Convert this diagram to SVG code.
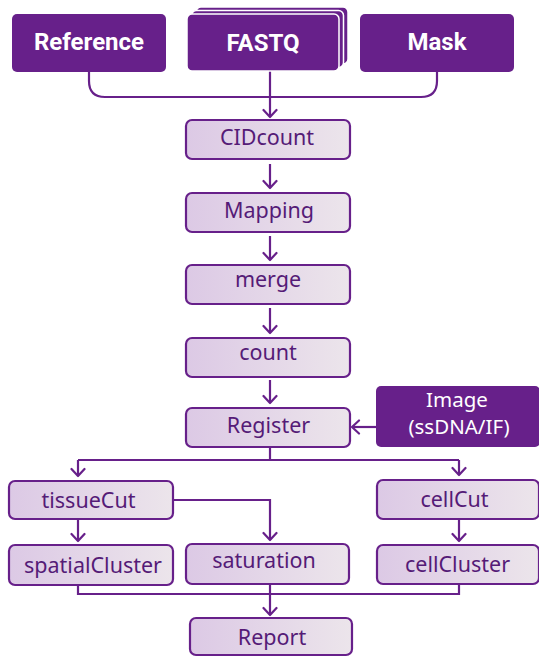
<svg xmlns="http://www.w3.org/2000/svg" width="539" height="657" viewBox="0 0 539 657">
  <defs>
    <linearGradient id="lav" x1="0" y1="0" x2="1" y2="0">
      <stop offset="0" stop-color="#dcc9e5"/>
      <stop offset="1" stop-color="#ece5eb"/>
    </linearGradient>
    <marker id="arr" markerUnits="userSpaceOnUse" markerWidth="16" markerHeight="16" viewBox="-10 -8 12 16" refX="0" refY="0" orient="auto">
      <path d="M-7,-6.5 L0,0 L-7,6.5" fill="none" stroke="#67208a" stroke-width="2.2" stroke-linecap="round" stroke-linejoin="round"/>
    </marker>
  </defs>
  <style>
    .dark { fill: #67208a; }
    .stack { fill: #67208a; stroke: #ffffff; stroke-width: 1.5; }
    .light { fill: url(#lav); stroke: #67208a; stroke-width: 2.2; }
    .tw { font-family: Roboto, "Liberation Sans", sans-serif; font-weight: 700; font-size: 24px; fill: #ffffff; text-anchor: middle; }
    .tl { font-family: "Noto Sans", "Open Sans", sans-serif; font-size: 21.5px; fill: #551b77; text-anchor: middle; }
    .ti { font-family: "Noto Sans", "Open Sans", sans-serif; font-size: 20.5px; fill: #ffffff; text-anchor: middle; }
    .c { fill: none; stroke: #67208a; stroke-width: 2.2; }
    .ca { fill: none; stroke: #67208a; stroke-width: 2.2; marker-end: url(#arr); }
  </style>

  <g id="connectors">
    <path class="c" d="M89,72 V81 Q89,97 105,97 H421 Q437,97 437,81 V72"/>
    <path class="ca" d="M270,71 V117"/>
    <path class="ca" d="M270,164 V188"/>
    <path class="ca" d="M270,236 V260"/>
    <path class="ca" d="M270,308 V333"/>
    <path class="ca" d="M270,380 V403"/>
    <path class="ca" d="M376,427 H352"/>
    <path class="c" d="M270,447 V460"/>
    <path class="c" d="M78,460 H459"/>
    <path class="ca" d="M78,460 V476"/>
    <path class="ca" d="M459,460 V475"/>
    <path class="ca" d="M78,520 V541"/>
    <path class="ca" d="M174,500 H270 V540"/>
    <path class="ca" d="M459,520 V541"/>
    <path class="c" d="M78,586 V594 H459 V585"/>
    <path class="ca" d="M270,585 V615"/>
  </g>

  <g id="node-reference">
    <rect class="dark" x="12" y="14" width="154" height="58" rx="5"/>
    <text class="tw" x="89" y="50">Reference</text>
  </g>
  <g id="node-fastq">
    <rect class="stack" x="196" y="7" width="152" height="57" rx="5"/>
    <rect class="stack" x="191.5" y="10.5" width="152" height="57" rx="5"/>
    <rect class="stack" x="187" y="14" width="152" height="57" rx="5"/>
    <text class="tw" x="263" y="50.5">FASTQ</text>
  </g>
  <g id="node-mask">
    <rect class="dark" x="360" y="14" width="154" height="58" rx="5"/>
    <text class="tw" x="437" y="50">Mask</text>
  </g>

  <g id="node-cidcount">
    <rect class="light" x="186" y="120" width="164" height="39" rx="6"/>
    <text class="tl" x="267" y="145">CIDcount</text>
  </g>
  <g id="node-mapping">
    <rect class="light" x="186" y="193" width="164" height="39" rx="6"/>
    <text class="tl" x="269" y="218">Mapping</text>
  </g>
  <g id="node-merge">
    <rect class="light" x="186" y="265" width="164" height="39" rx="6"/>
    <text class="tl" x="268" y="287">merge</text>
  </g>
  <g id="node-count">
    <rect class="light" x="186" y="338" width="164" height="39" rx="6"/>
    <text class="tl" x="268" y="360">count</text>
  </g>
  <g id="node-register">
    <rect class="light" x="186" y="408" width="164" height="39" rx="6"/>
    <text class="tl" x="268.5" y="433">Register</text>
  </g>
  <g id="node-image">
    <rect class="dark" x="376" y="386" width="164" height="61" rx="5"/>
    <text class="ti" x="457" y="406.5">Image</text>
    <text class="ti" x="459" y="434">(ssDNA/IF)</text>
  </g>

  <g id="node-tissuecut">
    <rect class="light" x="9" y="481" width="164" height="38" rx="6"/>
    <text class="tl" x="88.5" y="508">tissueCut</text>
  </g>
  <g id="node-cellcut">
    <rect class="light" x="377" y="480" width="162" height="39" rx="6"/>
    <text class="tl" x="454.5" y="507">cellCut</text>
  </g>
  <g id="node-spatialcluster">
    <rect class="light" x="9" y="545" width="164" height="40" rx="6"/>
    <text class="tl" x="93" y="573">spatialCluster</text>
  </g>
  <g id="node-saturation">
    <rect class="light" x="186" y="544" width="163" height="40" rx="6"/>
    <text class="tl" x="264" y="568">saturation</text>
  </g>
  <g id="node-cellcluster">
    <rect class="light" x="377" y="545" width="162" height="39" rx="6"/>
    <text class="tl" x="457.5" y="572">cellCluster</text>
  </g>
  <g id="node-report">
    <rect class="light" x="190" y="618" width="162" height="37" rx="6"/>
    <text class="tl" x="272" y="645">Report</text>
  </g>
</svg>
